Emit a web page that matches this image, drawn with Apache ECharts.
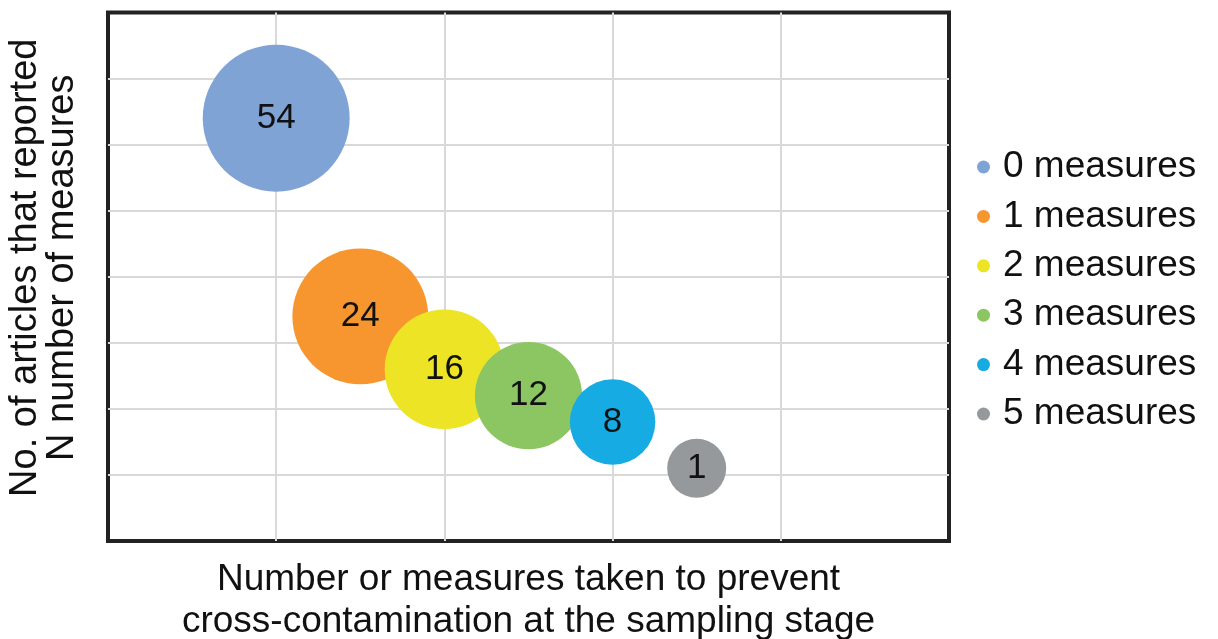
<!DOCTYPE html>
<html>
<head>
<meta charset="utf-8">
<script src="https://cdn.jsdelivr.net/npm/echarts@6/dist/echarts.min.js"></script>
<style>
  html, body { margin: 0; padding: 0; background: #ffffff; }
  #chart { width: 1218px; height: 639px; }
</style>
</head>
<body>
<div id="chart"></div>
<script>
// Categories: number of measures taken at the sampling stage
const categories = ['0 measures', '1 measures', '2 measures', '3 measures', '4 measures', '5 measures'];
// Horizontal position of each bubble on the measures axis
const measureX = [1, 1.5, 2, 2.5, 3, 3.5];
// Vertical position of each bubble
const articleY = [6.4, 3.4, 2.6, 2.2, 1.8, 1.1];
// Number of articles (shown as the bubble label)
const articleCounts = [54, 24, 16, 12, 8, 1];
// Relative bubble size (area units)
const bubbleSize = [6.2, 5.3, 4.1, 3.3, 2.1, 1];

const palette = ['#7fa3d5', '#f7962f', '#ece425', '#8bc663', '#16ace3', '#96999b'];
const FONT = '"Liberation Sans", Arial, sans-serif';
const SIZE_UNIT = 59; // diameter in px of one size unit

const series = categories.map((name, i) => ({
  name: name,
  type: 'scatter',
  data: [[measureX[i], articleY[i], bubbleSize[i], articleCounts[i]]],
  symbol: 'circle',
  symbolSize: d => SIZE_UNIT * Math.sqrt(d[2]),
  itemStyle: { color: palette[i], opacity: 1 },
  label: {
    show: true,
    position: 'inside',
    formatter: p => String(p.data[3]),
    fontFamily: FONT,
    fontSize: 35,
    color: '#111111'
  },
  emphasis: { disabled: true }
}));

const chart = echarts.init(document.getElementById('chart'), null, { renderer: 'canvas' });
chart.setOption({
  animation: false,
  backgroundColor: '#ffffff',
  textStyle: { fontFamily: FONT },
  grid: {
    left: 108, top: 12.5, width: 841, height: 528.5,
    outerBoundsMode: 'none',
    containLabel: false,
    show: true,
    borderColor: '#222222',
    borderWidth: 4,
    backgroundColor: 'transparent'
  },
  legend: {
    orient: 'vertical',
    left: 972,
    top: 142,
    icon: 'circle',
    itemWidth: 13,
    itemHeight: 13,
    itemGap: 9.4,
    data: categories,
    textStyle: {
      fontFamily: FONT,
      fontSize: 37,
      lineHeight: 40,
      color: '#111111',
      padding: [0, 0, 0, 8]
    }
  },
  xAxis: {
    type: 'value',
    min: 0, max: 5, interval: 1,
    name: 'Number or measures taken to prevent\ncross-contamination at the sampling stage',
    nameLocation: 'middle',
    nameGap: 18,
    nameTextStyle: {
      fontFamily: FONT, fontSize: 37, lineHeight: 42, color: '#111111',
      verticalAlign: 'top'
    },
    axisLine: { show: false },
    axisTick: { show: false },
    axisLabel: { show: false },
    splitLine: {
      show: true, showMinLine: false, showMaxLine: false,
      lineStyle: { color: '#d9d9d9', width: 2 }
    }
  },
  yAxis: {
    type: 'value',
    min: 0, max: 8, interval: 1,
    name: 'No. of articles that reported\nN number of measures',
    nameLocation: 'middle',
    nameGap: 27,
    nameRotate: 90,
    nameTextStyle: {
      fontFamily: FONT, fontSize: 38, lineHeight: 37, color: '#111111',
      padding: [0, 0, 0, 18]
    },
    axisLine: { show: false },
    axisTick: { show: false },
    axisLabel: { show: false },
    splitLine: {
      show: true, showMinLine: false, showMaxLine: false,
      lineStyle: { color: '#d9d9d9', width: 2 }
    }
  },
  series: series
});
</script>
</body>
</html>
